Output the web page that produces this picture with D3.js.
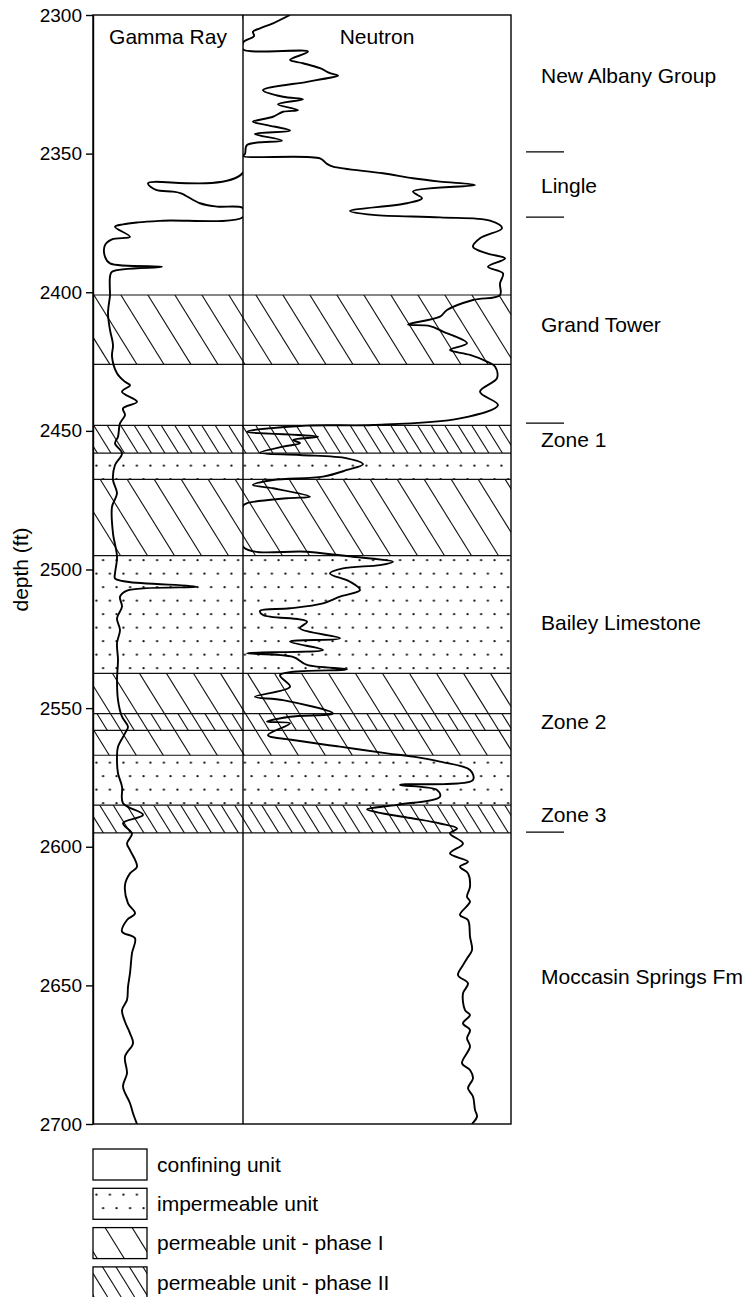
<!DOCTYPE html>
<html>
<head>
<meta charset="utf-8">
<script src="https://cdn.jsdelivr.net/npm/d3@7"></script>
<style>
  body { margin: 0; background: #fff; }
  svg { display: block; font-family: "Liberation Sans", Arial, Helvetica, sans-serif; }
  .axis text { font-size: 19px; fill: #000; }
  .axis line, .axis path { stroke: #000; stroke-width: 1.4; }
  .label { font-size: 21px; fill: #000; }
  .log { fill: none; stroke: #000; stroke-width: 1.9; stroke-linejoin: round; }
  .frame { fill: none; stroke: #000; stroke-width: 1.4; }
  .bound { stroke: #111; stroke-width: 1.2; }
  .hatch line { stroke: #111; stroke-width: 1.1; }
</style>
</head>
<body>
<script>
// depth axis ticks (ft)
const depthTicks = [2300, 2350, 2400, 2450, 2500, 2550, 2600, 2650, 2700];

// hydrostratigraphic units: top, base, type
const unitTop  = [2401, 2426, 2448, 2458, 2467.5, 2495, 2537.5, 2552, 2558, 2567, 2585];
const unitBase = [2426, 2448, 2458, 2467.5, 2495, 2537.5, 2552, 2558, 2567, 2585, 2595];
const unitType = ["phase1", "confining", "phase2", "dots", "phase1", "dots", "phase1", "phase2", "phase1", "dots", "phase2"];

// formation names and the depth they are written at
const formationNames = ["New Albany Group", "Lingle", "Grand Tower", "Zone 1", "Bailey Limestone", "Zone 2", "Zone 3", "Moccasin Springs Fm"];
const formationLabelDepth = [2322, 2361.5, 2411.6, 2453, 2519, 2555, 2588.4, 2646.8];
// short marks at formation contacts
const contactDepth = [2349.4, 2372.9, 2447.2, 2594.7];

// legend
const legendLabels = ["confining unit", "impermeable unit", "permeable unit - phase I", "permeable unit - phase II"];
const legendTypes = ["confining", "dots", "phase1", "phase2"];

// gamma ray log: [depth ft, API] (150 = off scale)
const gammaLog = [
  [2300,150],[2356.9,150],[2360.7,55],[2363.1,63],[2363.7,80],[2364.3,88],[2367.9,107],[2369.1,124],[2369.7,150],
  [2372.9,150],[2374.2,70],[2374.8,45],[2375.5,30],[2376.4,22],[2380.0,37],[2380.9,19],[2383.0,12],[2387.2,12],
  [2389.6,17],[2390.8,69],[2392.6,19],[2394.4,17],[2400.4,17],[2401.2,17],[2407.6,15],[2413.6,17],[2419.0,20],
  [2423.2,19],[2429.2,24],[2432.3,32],[2433.5,37],[2435.9,29],[2439.5,44],[2441.9,30],[2444.3,32],[2447.3,27],
  [2452.1,25],[2454.5,22],[2458.1,29],[2462.3,22],[2467.7,20],[2472.5,24],[2477.4,19],[2487.0,20],[2495.4,24],
  [2501.4,22],[2503.2,22],[2504.4,34],[2506.2,104],[2507.6,34],[2509.8,27],[2513.4,29],[2517.6,24],[2521.8,27],
  [2526.6,24],[2532.6,25],[2539.9,24],[2547.1,25],[2553.1,29],[2556.7,35],[2559.1,32],[2563.9,25],[2567.5,24],
  [2573.5,25],[2578.3,29],[2584.3,30],[2588.5,50],[2591.5,30],[2595.2,39],[2598.8,34],[2601.2,37],[2607.2,44],
  [2609.6,37],[2613.8,32],[2620.4,35],[2624.0,42],[2626.4,34],[2630.6,29],[2633.0,42],[2638.4,39],[2645.6,37],
  [2650.5,35],[2655.3,34],[2658.9,29],[2663.1,32],[2667.3,37],[2670.9,40],[2675.7,32],[2681.7,34],[2686.5,30],
  [2692.5,37],[2696.1,40],[2700,44]
];

// neutron log: [depth ft, relative counts] (0 = off scale)
const neutronLog = [
  [2300,47],[2303.0,30],[2304.8,17],[2306.0,10],[2307.6,11],[2309.3,2],[2310,0],[2312.4,0],[2313.2,65],[2316.2,47],
  [2317.4,60],[2319.2,77],[2321.0,87],[2321.9,95],[2322.8,84],[2324.1,64],[2327.1,20],[2329.5,40],[2330.4,60],
  [2332.2,35],[2334.3,55],[2334.9,40],[2336.7,30],[2338.5,10],[2339.7,24],[2341.7,47],[2342.9,12],[2345.3,39],
  [2346.9,4],[2350.1,2],[2350.9,0],[2351.7,77],[2353.7,84],[2354.7,90],[2357.1,140],[2358.9,170],[2360.1,197],
  [2361.3,232],[2363.7,170],[2366.1,179],[2367.9,164],[2370.7,107],[2372.1,130],[2373.0,197],[2374.2,247],
  [2376.9,259],[2380.5,237],[2383.6,230],[2386.0,244],[2387.8,262],[2390.8,245],[2393.2,260],[2396.8,257],
  [2401.0,257],[2402.8,230],[2406.4,204],[2408.8,197],[2411.6,165],[2412.2,187],[2414.2,200],[2418.4,224],
  [2420.8,207],[2422.6,227],[2425.0,244],[2426.8,252],[2431.0,254],[2435.9,237],[2440.7,255],[2445.5,217],
  [2447.9,130],[2448.1,64],[2450.3,4],[2452.1,75],[2453.3,50],[2454.4,57],[2455.7,40],[2457.9,17],[2458.7,57],
  [2459.9,104],[2462.0,120],[2464.1,104],[2466.5,80],[2467.7,30],[2469.5,10],[2470.7,30],[2473.7,67],[2474.3,44],
  [2476.1,4],[2477.1,0],[2491.8,0],[2493.6,64],[2495.4,110],[2497.2,150],[2498.4,137],[2499.6,100],[2501.4,87],
  [2504.4,107],[2507.4,117],[2509.8,97],[2512.2,80],[2514.0,47],[2514.9,17],[2516.4,20],[2518.8,64],[2521.2,57],
  [2524.8,97],[2526.0,47],[2529.0,80],[2530.2,4],[2531.5,50],[2534.4,64],[2536.0,104],[2538.1,37],[2542.3,47],
  [2545.9,12],[2547.1,40],[2551.9,90],[2553.1,47],[2554.9,24],[2555.5,47],[2559.7,25],[2561.5,50],[2563.9,97],
  [2566.3,144],[2567.5,170],[2569.3,197],[2572.3,227],[2575.9,230],[2577.7,157],[2579.5,194],[2581.9,197],
  [2584.9,154],[2586.5,124],[2588.0,140],[2589.8,170],[2591.6,197],[2593.4,214],[2595.2,207],[2598.8,220],
  [2602.4,207],[2605.4,225],[2607.2,217],[2609.6,225],[2614.4,227],[2618.0,224],[2619.8,227],[2624.6,217],
  [2626.4,225],[2632.4,227],[2637.3,229],[2640.3,224],[2642.7,220],[2646.3,215],[2649.3,225],[2652.9,220],
  [2658.9,222],[2660.7,227],[2663.7,220],[2666.1,227],[2669.1,224],[2672.1,227],[2678.1,219],[2680.5,227],
  [2683.5,230],[2687.1,225],[2690.1,230],[2694.9,232],[2697.3,234],[2700,229]
];

const width = 748, height = 1297;
// panel edges
const panel = {left: 93, mid: 243, right: 511, top: 15, bottom: 1124};
// legend boxes
const legendBox = {x: 93, y0: 1149, step: 39.3, w: 54, h: 31};

const svg = d3.select("body").append("svg")
  .attr("width", width)
  .attr("height", height);

const y = d3.scaleLinear().domain([2300, 2700]).range([panel.top, panel.bottom]);
const xGamma = d3.scaleLinear().domain([0, 150]).range([panel.left, panel.mid]).clamp(true);
const xNeutron = d3.scaleLinear().domain([0, 268]).range([panel.mid, panel.right]).clamp(true);

const defs = svg.append("defs");

// stipple pattern for impermeable units
const dots = defs.append("pattern")
  .attr("id", "dots")
  .attr("patternUnits", "userSpaceOnUse")
  .attr("x", panel.left).attr("y", 0)
  .attr("width", 13.5).attr("height", 27);
dots.append("circle").attr("cx", 3.4).attr("cy", 6.7).attr("r", 1.15).attr("fill", "#111");
dots.append("circle").attr("cx", 10.1).attr("cy", 20.2).attr("r", 1.15).attr("fill", "#111");

const units = unitTop.map((t, i) => ({top: t, base: unitBase[i], type: unitType[i]}));
const legendItems = legendLabels.map((txt, i) => ({txt: txt, type: legendTypes[i], y: legendBox.y0 + i * legendBox.step}));

// 1. unit backgrounds (white or stipple)
svg.append("g").selectAll("rect")
  .data(units)
  .enter().append("rect")
  .attr("x", panel.left)
  .attr("y", d => y(d.top))
  .attr("width", panel.right - panel.left)
  .attr("height", d => y(d.base) - y(d.top))
  .attr("fill", d => d.type === "dots" ? "url(#dots)" : "#fff");

svg.append("g").selectAll("rect")
  .data(legendItems)
  .enter().append("rect")
  .attr("x", legendBox.x).attr("y", d => d.y)
  .attr("width", legendBox.w).attr("height", legendBox.h)
  .attr("fill", d => d.type === "dots" ? "url(#dots)" : "#fff");

// 2. diagonal hatching, clipped to the units (and legend box) of that type
function hatchLines(type, gap) {
  const clip = defs.append("clipPath").attr("id", "clip-" + type);
  units.filter(d => d.type === type).forEach(d => {
    clip.append("rect")
      .attr("x", panel.left).attr("y", y(d.top))
      .attr("width", panel.right - panel.left).attr("height", y(d.base) - y(d.top));
  });
  legendItems.filter(d => d.type === type).forEach(d => {
    clip.append("rect")
      .attr("x", legendBox.x).attr("y", d.y)
      .attr("width", legendBox.w).attr("height", legendBox.h);
  });
  const k = 0.62; // dx per dy
  const idx = d3.range(-Math.ceil(k * height / gap) - 2, Math.ceil(width / gap) + 2);
  svg.append("g")
    .attr("class", "hatch")
    .attr("clip-path", "url(#clip-" + type + ")")
    .selectAll("line")
    .data(idx)
    .enter().append("line")
    .attr("x1", i => 19 + i * gap).attr("y1", 0)
    .attr("x2", i => 19 + i * gap + k * height).attr("y2", height);
}
hatchLines("phase1", 27);
hatchLines("phase2", 13.5);

// 3. unit boundaries
const bounds = Array.from(new Set(unitTop.concat(unitBase)));
svg.append("g").selectAll("line")
  .data(bounds)
  .enter().append("line")
  .attr("class", "bound")
  .attr("x1", panel.left).attr("x2", panel.right)
  .attr("y1", d => y(d)).attr("y2", d => y(d));

// 4. log curves, clipped to their tracks
defs.append("clipPath").attr("id", "clipG")
  .append("rect").attr("x", panel.left).attr("y", panel.top)
  .attr("width", panel.mid - panel.left).attr("height", panel.bottom - panel.top);
defs.append("clipPath").attr("id", "clipN")
  .append("rect").attr("x", panel.mid).attr("y", panel.top)
  .attr("width", panel.right - panel.mid).attr("height", panel.bottom - panel.top);

const gammaLine = d3.line().x(d => xGamma(d[1])).y(d => y(d[0])).curve(d3.curveCatmullRom.alpha(0.5));
const neutronLine = d3.line().x(d => xNeutron(d[1])).y(d => y(d[0])).curve(d3.curveCatmullRom.alpha(0.5));

svg.append("path")
  .datum(gammaLog)
  .attr("class", "log")
  .attr("clip-path", "url(#clipG)")
  .attr("d", gammaLine);

svg.append("path")
  .datum(neutronLog)
  .attr("class", "log")
  .attr("clip-path", "url(#clipN)")
  .attr("d", neutronLine);

// 5. frame + divider
svg.append("rect")
  .attr("class", "frame")
  .attr("x", panel.left).attr("y", panel.top)
  .attr("width", panel.right - panel.left).attr("height", panel.bottom - panel.top);
svg.append("line")
  .attr("class", "frame")
  .attr("x1", panel.mid).attr("x2", panel.mid)
  .attr("y1", panel.top).attr("y2", panel.bottom);

// 6. depth axis
svg.append("g")
  .attr("class", "axis")
  .attr("transform", "translate(" + panel.left + ",0)")
  .call(d3.axisLeft(y).tickValues(depthTicks).tickFormat(d3.format("d"))
    .tickSize(7).tickPadding(4).tickSizeOuter(0))
  .call(g => g.attr("font-family", null).attr("font-size", null));

svg.append("text")
  .attr("class", "label")
  .attr("text-anchor", "middle")
  .attr("transform", "translate(28," + y(2500) + ") rotate(-90)")
  .text("depth (ft)");

// track titles
svg.append("text").attr("class", "label")
  .attr("x", (panel.left + panel.mid) / 2).attr("y", 44)
  .attr("text-anchor", "middle").text("Gamma Ray");
svg.append("text").attr("class", "label")
  .attr("x", (panel.mid + panel.right) / 2).attr("y", 44)
  .attr("text-anchor", "middle").text("Neutron");

// 7. formation names + contacts
svg.append("g").selectAll("text")
  .data(formationNames)
  .enter().append("text")
  .attr("class", "label")
  .attr("x", 541)
  .attr("y", (d, i) => y(formationLabelDepth[i]))
  .attr("dy", "0.35em")
  .text(d => d);

svg.append("g").selectAll("line")
  .data(contactDepth)
  .enter().append("line")
  .attr("x1", 526).attr("x2", 564)
  .attr("y1", d => y(d)).attr("y2", d => y(d))
  .attr("stroke", "#000").attr("stroke-width", 1.3);

// 8. legend outlines + text
const legend = svg.append("g").attr("class", "legende");
legend.selectAll("rect")
  .data(legendItems)
  .enter().append("rect")
  .attr("x", legendBox.x).attr("y", d => d.y)
  .attr("width", legendBox.w).attr("height", legendBox.h)
  .attr("fill", "none")
  .attr("stroke", "#000").attr("stroke-width", 1.3);
legend.selectAll("text")
  .data(legendItems)
  .enter().append("text")
  .attr("class", "label")
  .attr("x", 157).attr("y", d => d.y + legendBox.h / 2)
  .attr("dy", "0.35em")
  .text(d => d.txt);
</script>
</body>
</html>
